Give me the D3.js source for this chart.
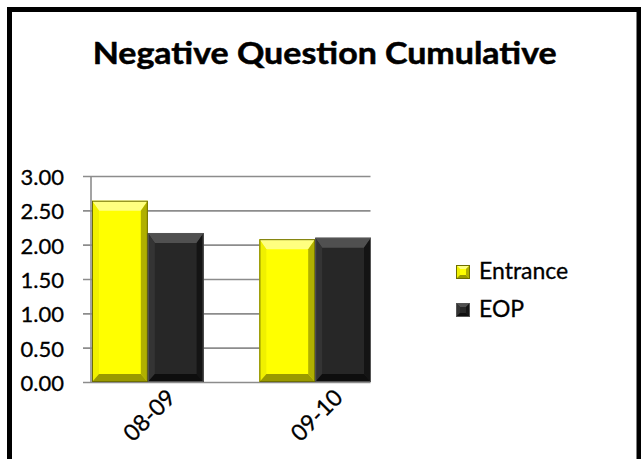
<!DOCTYPE html>
<html>
<head>
<meta charset="utf-8">
<script src="https://cdn.jsdelivr.net/npm/d3@7"></script>
<style>
  html, body { margin: 0; padding: 0; background: #fff; }
  svg { display: block; }
  text { font-family: Lato, "Open Sans", sans-serif; fill: #000; }
</style>
</head>
<body>
<svg id="chart" width="641" height="459"></svg>
<script>
// ---- data ----
const categories = ["08-09", "09-10"];
const seriesNames = ["Entrance", "EOP"];
const entrance = [2.64, 2.08];
const eop = [2.17, 2.10];
const yTicks = [0, 0.5, 1, 1.5, 2, 2.5, 3];
const titleText = "Negative Question Cumulative";

const seriesValues = [entrance, eop];

const svg = d3.select("#chart");

// outer border (continues past right/bottom edge)
svg.append("rect")
  .attr("x", 9.5).attr("y", 9.5)
  .attr("width", 629.5).attr("height", 470)
  .attr("fill", "#fff").attr("stroke", "#000").attr("stroke-width", 5);

// title
svg.append("text")
  .attr("x", 324.7).attr("y", 64)
  .attr("text-anchor", "middle")
  .attr("font-weight", "bold")
  .attr("font-size", 29.5)
  .attr("textLength", 464)
  .attr("lengthAdjust", "spacingAndGlyphs")
  .attr("stroke", "#000").attr("stroke-width", 0.5)
  .text(titleText);

// scales
const plotLeft = 91, plotRight = 370.5;
const y = d3.scaleLinear().domain([0, 3]).range([382, 176]);
const x0 = d3.scaleBand().domain(categories).range([92, 371]).paddingInner(0.333).paddingOuter(0);
const x1 = d3.scaleBand().domain(seriesNames).range([0, x0.bandwidth()]).padding(0);

// gridlines + y labels
const yAxis = svg.append("g")
  .attr("transform", "translate(83,0)")
  .call(d3.axisLeft(y).tickValues(yTicks).tickFormat(d3.format(".2f"))
        .tickSize(-(plotRight - 83)).tickPadding(19));
yAxis.select(".domain").remove();
yAxis.selectAll(".tick line").attr("stroke", "#8c8c8c").attr("stroke-width", 1.6);
yAxis.selectAll(".tick text")
  .attr("font-size", 22)
  .attr("font-family", "Lato, 'Open Sans', sans-serif")
  .attr("fill", "#000")
  .attr("stroke", "#000").attr("stroke-width", 0.3)
  .attr("dy", null)
  .attr("dominant-baseline", "central");

// vertical axis line
svg.append("line")
  .attr("x1", plotLeft).attr("x2", plotLeft)
  .attr("y1", y(3)).attr("y2", y(0))
  .attr("stroke", "#8c8c8c").attr("stroke-width", 1.6);

// bevel palettes
const pal = {
  "Entrance": { face: "#ffff00", top: "#ffff80", left: "#f0f000", right: "#b0b000", bottom: "#9a9a00", stroke: "#6e6e00" },
  "EOP":      { face: "#272727", top: "#505050", left: "#343434", right: "#141414", bottom: "#0e0e0e", stroke: "#555555" }
};

function bevelBox(g, xa, ya, xb, yb, c, bt, bs, bb) {
  const w = xb - xa, h = yb - ya;
  bt = Math.min(bt, h / 2); bb = Math.min(bb, h / 2); bs = Math.min(bs, w / 2);
  g.append("rect").attr("x", xa).attr("y", ya).attr("width", w).attr("height", h).attr("fill", c.face);
  const poly = (pts, fill) => g.append("polygon").attr("points", pts.map(p => p.join(",")).join(" ")).attr("fill", fill);
  poly([[xa, ya], [xb, ya], [xb - bs, ya + bt], [xa + bs, ya + bt]], c.top);
  poly([[xa, ya], [xa + bs, ya + bt], [xa + bs, yb - bb], [xa, yb]], c.left);
  poly([[xb, ya], [xb, yb], [xb - bs, yb - bb], [xb - bs, ya + bt]], c.right);
  poly([[xa, yb], [xa + bs, yb - bb], [xb - bs, yb - bb], [xb, yb]], c.bottom);
  g.append("rect").attr("x", xa + 0.5).attr("y", ya + 0.5).attr("width", w - 1).attr("height", h - 1)
    .attr("fill", "none").attr("stroke", c.stroke).attr("stroke-width", 1);
}

// bars
const barsG = svg.append("g");
categories.forEach((cat, i) => {
  seriesNames.forEach((s, j) => {
    const v = seriesValues[j][i];
    const xa = x0(cat) + x1(s);
    const xb = xa + x1.bandwidth();
    bevelBox(barsG, xa, y(v), xb, y(0), pal[s], 10, 7, 8);
  });
});

// x labels
categories.forEach(cat => {
  const cx = x0(cat) + x0.bandwidth() / 2;
  svg.append("text")
    .attr("transform", `translate(${cx + 29},399) rotate(-45)`)
    .attr("text-anchor", "end")
    .attr("font-size", 23)
    .attr("stroke", "#000").attr("stroke-width", 0.3)
    .text(cat);
});

// legend
const legendY = [279, 317];
seriesNames.forEach((s, j) => {
  const g = svg.append("g");
  bevelBox(g, 456, legendY[j] - 14, 470, legendY[j], pal[s], 4, 4, 4);
  g.append("text")
    .attr("x", 479).attr("y", legendY[j])
    .attr("font-size", 23)
    .attr("stroke", "#000").attr("stroke-width", 0.3)
    .text(s);
});
</script>
</body>
</html>
